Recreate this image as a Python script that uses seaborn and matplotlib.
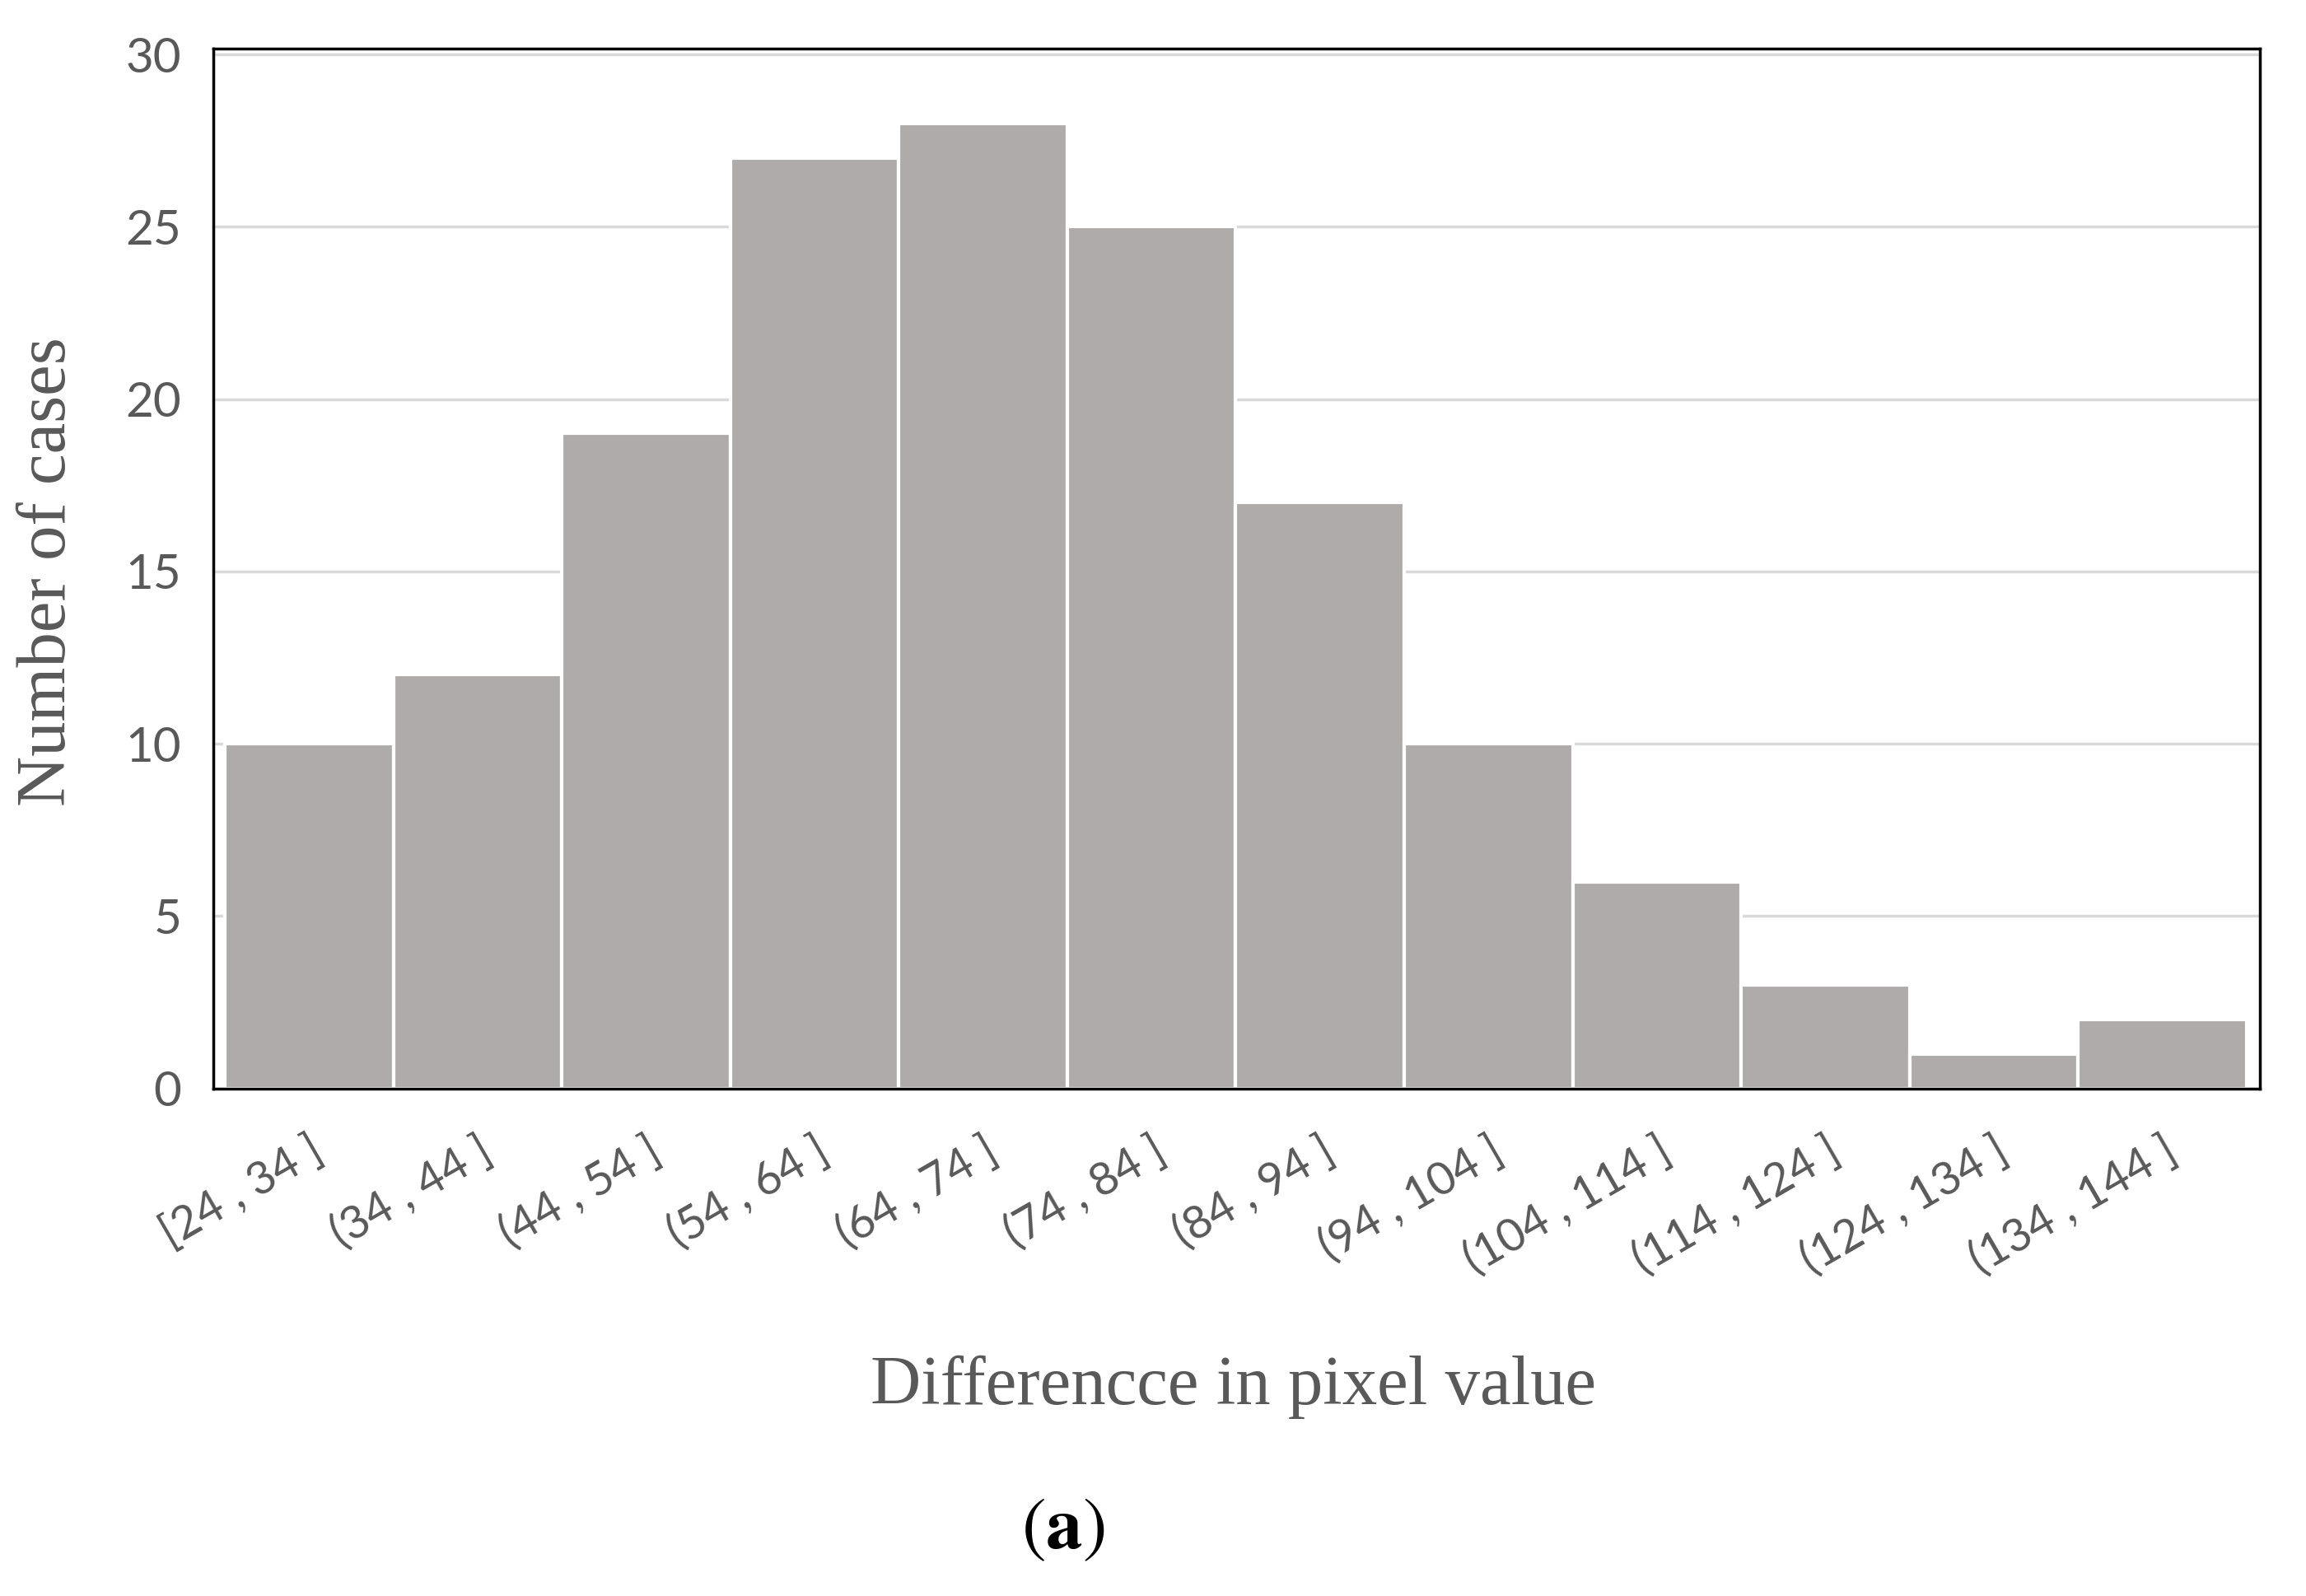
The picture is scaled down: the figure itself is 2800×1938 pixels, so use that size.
import matplotlib
matplotlib.use("Agg")
import pandas as pd
import matplotlib.pyplot as plt
import seaborn as sns

#=============================================================================
# Data
#=============================================================================
bins = ["[24 , 34 ]", "(34 , 44 ]", "(44 , 54 ]", "(54 , 64 ]", "(64 , 74 ]",
        "(74 , 84 ]", "(84 , 94 ]", "(94 , 104 ]", "(104 , 114 ]",
        "(114 , 124 ]", "(124 , 134 ]", "(134 , 144 ]"]
cases = [10, 12, 19, 27, 28, 25, 17, 10, 6, 3, 1, 2]
y_ticks = [0, 5, 10, 15, 20, 25, 30]

df = pd.DataFrame({"bin": bins, "cases": cases})

#=============================================================================
# Plot
#=============================================================================
sns.set_style("white")
plt.rcParams["mathtext.fontset"] = "stix"

fig = plt.figure(figsize=(28, 19.38), dpi=100)
ax = fig.add_axes([0.0925, 0.318, 0.8875, 0.6516])

sns.barplot(data=df, x="bin", y="cases", color="#AFABAB", width=1.0,
            saturation=1, edgecolor="white", linewidth=3, ax=ax)

ax.set_ylim(0, 30.17)
ax.set_xlim(-0.57, len(bins) - 0.42)
ax.set_yticks(y_ticks)

# light horizontal grid behind bars
ax.set_axisbelow(True)
ax.yaxis.grid(True, color="#d9d9d9", linewidth=2.5)

for side in ["top", "bottom", "left", "right"]:
    ax.spines[side].set_visible(True)
    ax.spines[side].set_color("black")
    ax.spines[side].set_linewidth(2.5)

ax.tick_params(axis="both", length=0, colors="#595959")
ax.tick_params(axis="y", pad=28, labelsize=42)
ax.tick_params(axis="x", pad=36, labelsize=40)
for lab in ax.get_yticklabels():
    lab.set_fontfamily("Lato")
for lab in ax.get_xticklabels():
    lab.set_fontfamily("Lato")
    lab.set_rotation(30)
    lab.set_ha("right")
    lab.set_rotation_mode("anchor")

ax.set_xlabel("")
ax.set_ylabel("")
fig.text(0.021, 0.642, "Number of cases", rotation=90, ha="center", va="center",
         fontsize=61, color="#595959", family="Liberation Serif")
fig.text(0.535, 0.131, "Differencce in pixel value", ha="center", va="center",
         fontsize=61, color="#595959", family="Liberation Serif")
fig.text(0.461, 0.041, r"($\mathbf{a}$)", ha="center", va="center",
         fontsize=64, color="black", family="STIXGeneral")

fig.savefig("out.png", dpi=100, facecolor="white")
